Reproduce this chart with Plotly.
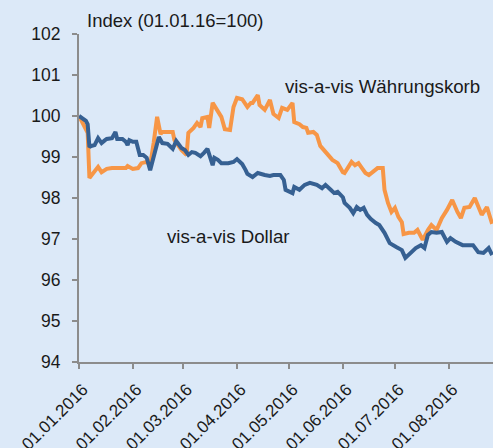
import plotly.graph_objects as go

dollar_dates = [
    "2016-01-01", "2016-01-03", "2016-01-05", "2016-01-06", "2016-01-07", "2016-01-08", "2016-01-10",
    "2016-01-12", "2016-01-14", "2016-01-16", "2016-01-17", "2016-01-20", "2016-01-22", "2016-01-23",
    "2016-01-26", "2016-01-28", "2016-01-29", "2016-01-30", "2016-02-01", "2016-02-03", "2016-02-05",
    "2016-02-07", "2016-02-09", "2016-02-11", "2016-02-14", "2016-02-16", "2016-02-18", "2016-02-21",
    "2016-02-24", "2016-02-26", "2016-02-29", "2016-03-02", "2016-03-04", "2016-03-06", "2016-03-08",
    "2016-03-11", "2016-03-13", "2016-03-15", "2016-03-18", "2016-03-19", "2016-03-21", "2016-03-23",
    "2016-03-27", "2016-03-30", "2016-04-01", "2016-04-04", "2016-04-06", "2016-04-07", "2016-04-10",
    "2016-04-13", "2016-04-17", "2016-04-20", "2016-04-22", "2016-04-24", "2016-04-26", "2016-04-28",
    "2016-04-29", "2016-05-03", "2016-05-04", "2016-05-07", "2016-05-10", "2016-05-13", "2016-05-17",
    "2016-05-20", "2016-05-22", "2016-05-25", "2016-05-27", "2016-05-29", "2016-06-01", "2016-06-02",
    "2016-06-05", "2016-06-07", "2016-06-09", "2016-06-11", "2016-06-13", "2016-06-15", "2016-06-17",
    "2016-06-20", "2016-06-22", "2016-06-25", "2016-06-28", "2016-07-02", "2016-07-05", "2016-07-07",
    "2016-07-10", "2016-07-13", "2016-07-16", "2016-07-18", "2016-07-20", "2016-07-22", "2016-07-25",
    "2016-07-28", "2016-07-31", "2016-08-02", "2016-08-05", "2016-08-09", "2016-08-12", "2016-08-15",
    "2016-08-18", "2016-08-21", "2016-08-24", "2016-08-26",
]
dollar_values = [
    100.00, 99.95, 99.88, 99.80, 99.24, 99.27, 99.29,
    99.46, 99.34, 99.41, 99.44, 99.46, 99.61, 99.44,
    99.44, 99.37, 99.29, 99.41, 99.37, 99.37, 99.05,
    99.05, 98.98, 98.68, 99.12, 99.49, 99.34, 99.32,
    99.20, 99.39, 99.22, 99.17, 99.05, 99.12, 99.10,
    99.02, 99.10, 99.20, 98.80, 98.98, 98.93, 98.85,
    98.85, 98.88, 98.95, 98.83, 98.68, 98.59, 98.51,
    98.61, 98.56, 98.54, 98.56, 98.56, 98.56, 98.44,
    98.20, 98.12, 98.27, 98.20, 98.32, 98.37, 98.32,
    98.24, 98.32, 98.20, 98.12, 98.15, 98.02, 97.88,
    97.76, 97.63, 97.78, 97.71, 97.76, 97.59, 97.49,
    97.39, 97.34, 97.15, 96.90, 96.80, 96.73, 96.54,
    96.66, 96.78, 96.85, 96.78, 97.10, 97.17, 97.15,
    97.17, 96.93, 97.02, 96.93, 96.85, 96.85, 96.85,
    96.68, 96.66, 96.78, 96.61,
]

basket_dates = [
    "2016-01-01", "2016-01-03", "2016-01-05", "2016-01-06", "2016-01-07", "2016-01-09", "2016-01-12",
    "2016-01-14", "2016-01-17", "2016-01-20", "2016-01-24", "2016-01-28", "2016-01-29", "2016-02-01",
    "2016-02-04", "2016-02-06", "2016-02-09", "2016-02-11", "2016-02-13", "2016-02-15", "2016-02-17",
    "2016-02-18", "2016-02-21", "2016-02-24", "2016-02-25", "2016-02-29", "2016-03-03", "2016-03-04",
    "2016-03-07", "2016-03-09", "2016-03-11", "2016-03-12", "2016-03-15", "2016-03-16", "2016-03-18",
    "2016-03-21", "2016-03-23", "2016-03-25", "2016-03-28", "2016-03-30", "2016-04-01", "2016-04-04",
    "2016-04-07", "2016-04-09", "2016-04-10", "2016-04-13", "2016-04-14", "2016-04-17", "2016-04-20",
    "2016-04-22", "2016-04-25", "2016-04-27", "2016-04-30", "2016-05-03", "2016-05-04", "2016-05-07",
    "2016-05-09", "2016-05-11", "2016-05-12", "2016-05-15", "2016-05-17", "2016-05-19", "2016-05-22",
    "2016-05-25", "2016-05-26", "2016-05-29", "2016-06-01", "2016-06-02", "2016-06-06", "2016-06-08",
    "2016-06-10", "2016-06-12", "2016-06-14", "2016-06-16", "2016-06-18", "2016-06-21", "2016-06-24",
    "2016-06-25", "2016-06-27", "2016-06-29", "2016-07-01", "2016-07-03", "2016-07-05", "2016-07-06",
    "2016-07-09", "2016-07-12", "2016-07-14", "2016-07-16", "2016-07-17", "2016-07-20", "2016-07-22",
    "2016-07-25", "2016-07-28", "2016-07-31", "2016-08-03", "2016-08-06", "2016-08-08", "2016-08-10",
    "2016-08-13", "2016-08-16", "2016-08-18", "2016-08-20", "2016-08-23", "2016-08-25", "2016-08-26",
]
basket_values = [
    100.00, 99.85, 99.71, 99.59, 98.49, 98.61, 98.76,
    98.63, 98.71, 98.73, 98.73, 98.73, 98.78, 98.71,
    98.73, 98.85, 98.88, 98.80, 99.34, 99.98, 99.56,
    99.61, 99.61, 99.61, 99.41, 99.17, 99.05, 99.59,
    99.71, 99.83, 99.73, 99.95, 99.98, 99.71, 100.32,
    100.10, 99.98, 99.68, 99.66, 100.22, 100.44, 100.41,
    100.22, 100.32, 100.32, 100.51, 100.27, 100.15, 100.39,
    100.05, 99.95, 100.20, 100.15, 100.32, 99.85, 99.80,
    99.73, 99.71, 99.59, 99.61, 99.54, 99.27, 99.12,
    99.00, 98.93, 98.85, 98.63, 98.61, 98.88, 98.80,
    98.85, 98.73, 98.61, 98.56, 98.63, 98.73, 98.73,
    98.20, 97.88, 97.66, 97.76, 97.54, 97.41, 97.12,
    97.15, 97.15, 97.22, 97.05, 96.98, 97.22, 97.34,
    97.22, 97.51, 97.71, 97.95, 97.66, 97.51, 97.76,
    97.78, 98.00, 97.76, 97.59, 97.78, 97.54, 97.37,
]

x_tick_vals = ["2016-01-01", "2016-02-01", "2016-03-01", "2016-04-01",
               "2016-05-01", "2016-06-01", "2016-07-01", "2016-08-01"]
x_tick_text = ["01.01.2016", "01.02.2016", "01.03.2016", "01.04.2016",
               "01.05.2016", "01.06.2016", "01.07.2016", "01.08.2016"]
y_ticks = [94, 95, 96, 97, 98, 99, 100, 101, 102]

BG = "#DCE9F8"
FONT = "Liberation Sans, Arial, sans-serif"
TXT = "#1a1a1a"

fig = go.Figure()
fig.add_trace(go.Scatter(x=basket_dates, y=basket_values, mode="lines",
                         line=dict(color="#F79646", width=4), name="vis-a-vis Währungskorb"))
fig.add_trace(go.Scatter(x=dollar_dates, y=dollar_values, mode="lines",
                         line=dict(color="#366092", width=4), name="vis-a-vis Dollar"))

fig.update_layout(
    width=493, height=448,
    paper_bgcolor=BG, plot_bgcolor=BG,
    margin=dict(l=79, r=0, t=34, b=86),
    showlegend=False,
    font=dict(family=FONT, color=TXT, size=17),
    xaxis=dict(
        type="date", automargin=False,
        range=["2016-01-01", "2016-08-26 12:00"],
        tickvals=x_tick_vals, ticktext=x_tick_text,
        tickangle=-45, ticks="outside", ticklen=5, tickwidth=2, tickcolor="#8C8C8C",
        showline=True, linecolor="#8C8C8C", linewidth=2,
        showgrid=False, zeroline=False,
        ticklabelstandoff=4, ticklabelshift=4,
        tickfont=dict(family=FONT, size=17, color=TXT),
    ),
    yaxis=dict(
        range=[94, 102], tickvals=y_ticks, automargin=False,
        ticks="outside", ticklen=5, tickwidth=2, tickcolor="#8C8C8C",
        showline=True, linecolor="#8C8C8C", linewidth=2,
        showgrid=False, zeroline=False,
        ticklabelstandoff=8,
        tickfont=dict(family=FONT, size=17.5, color=TXT),
    ),
    annotations=[
        dict(text="Index (01.01.16=100)", xref="paper", yref="paper", x=0.0145, y=1.0,
             xanchor="left", yanchor="middle", yshift=14, showarrow=False,
             font=dict(family=FONT, size=18.5, color=TXT)),
        dict(text="vis-a-vis Währungskorb", xref="x", yref="y", x="2016-04-27 12:00", y=100.71,
             xanchor="left", yanchor="middle", showarrow=False,
             font=dict(family=FONT, size=18.7, color=TXT)),
        dict(text="vis-a-vis Dollar", xref="x", yref="y", x="2016-02-19 12:00", y=97.05,
             xanchor="left", yanchor="middle", showarrow=False,
             font=dict(family=FONT, size=18.7, color=TXT)),
    ],
)

fig.write_html(
    "out.html",
    config={"displayModeBar": False},
    post_script="document.body.style.margin='0';document.body.style.overflow='hidden';",
)
